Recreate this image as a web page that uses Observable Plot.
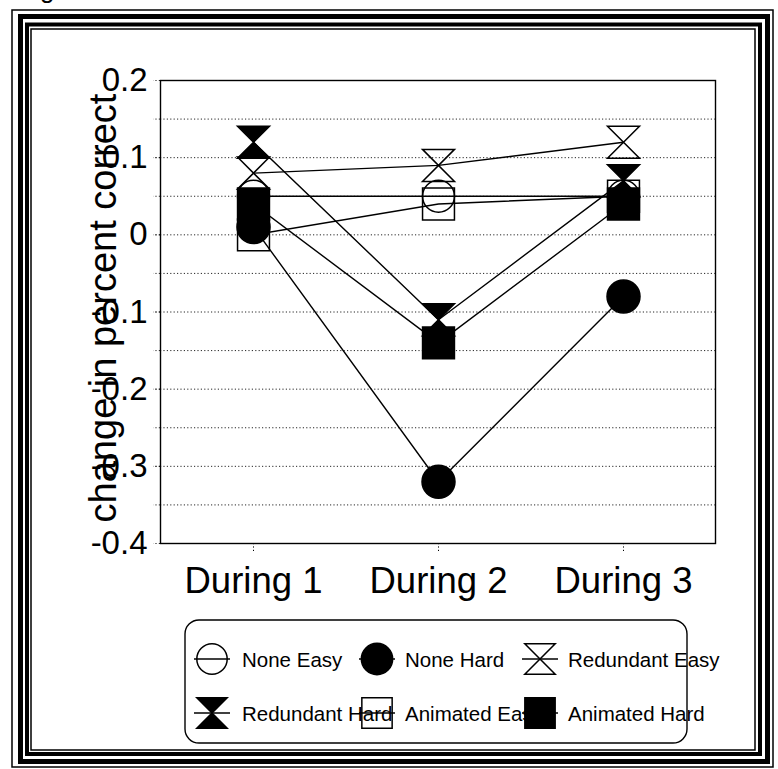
<!DOCTYPE html>
<html>
<head>
<meta charset="utf-8">
<script src="https://cdn.jsdelivr.net/npm/d3@7"></script>
<script src="https://cdn.jsdelivr.net/npm/@observablehq/plot@0.6"></script>
<style>
  html, body { margin: 0; padding: 0; background: #fff; }
  #page { position: relative; width: 778px; height: 769px; overflow: hidden; background: #fff; }
  #chart { position: absolute; left: 0; top: 0; }
  #overlay { position: absolute; left: 0; top: 0; pointer-events: none; }
</style>
</head>
<body>
<div id="page">
  <div id="chart"></div>
  <svg id="overlay" width="778" height="769"></svg>
</div>
<script>
// Test periods and the six condition series (change in proportion correct)
const periods = ["During 1", "During 2", "During 3"];
const seriesNames = ["None Easy", "None Hard", "Redundant Easy", "Redundant Hard", "Animated Easy", "Animated Hard"];
const noneEasy      = [0.05,  0.05,  0.05];
const noneHard      = [0.01, -0.32, -0.08];
const redundantEasy = [0.08,  0.09,  0.12];
const redundantHard = [0.12, -0.11,  0.07];
const animatedEasy  = [0.00,  0.04,  0.05];
const animatedHard  = [0.04, -0.14,  0.04];
const yTickValues = [0.2, 0.1, 0, -0.1, -0.2, -0.3, -0.4];
const gridValues = [0.15, 0.1, 0.05, 0, -0.05, -0.1, -0.15, -0.2, -0.25, -0.3, -0.35];

const seriesValues = [noneEasy, noneHard, redundantEasy, redundantHard, animatedEasy, animatedHard];

// Long table: one row per series and period
const rows = seriesNames.flatMap((name, i) =>
  seriesValues[i].map((v, j) => ({series: name, period: periods[j], value: v}))
);

// Vertical bow-tie (hourglass) marker
const hourglass = {
  draw(context, size) {
    const s = Math.sqrt(size / Math.PI);
    context.moveTo(-s, -s);
    context.lineTo(s, -s);
    context.lineTo(-s, s);
    context.lineTo(s, s);
    context.closePath();
  }
};

const markerStyle = {
  "None Easy":      {symbol: "circle", r: 16, fill: "none"},
  "None Hard":      {symbol: "circle", r: 16.5, fill: "#000"},
  "Redundant Easy": {symbol: hourglass, r: 16, fill: "none"},
  "Redundant Hard": {symbol: hourglass, r: 16, fill: "#000"},
  "Animated Easy":  {symbol: "square", r: 18, fill: "none"},
  "Animated Hard":  {symbol: "square", r: 18, fill: "#000"}
};

const font = "'Liberation Sans', Arial, Helvetica, sans-serif";
const dotted = "1.2,2.2";
const tickFmt = d => String(+d.toFixed(2));

const chart = Plot.plot({
  width: 778,
  height: 610,
  marginLeft: 160,
  marginRight: 63,
  marginTop: 80,
  marginBottom: 67,
  style: {fontFamily: font, background: "transparent", color: "#000", overflow: "visible"},
  x: {type: "point", domain: periods, padding: 0.5, label: null},
  y: {domain: [-0.4, 0.2], label: null},
  marks: [
    Plot.gridY(gridValues, {stroke: "#000", strokeOpacity: 0.85, strokeDasharray: dotted, strokeWidth: 1}),
    Plot.axisY(gridValues.concat(yTickValues), {tickSize: 7, tickFormat: () => "", label: null, strokeDasharray: dotted, strokeOpacity: 0.85}),
    Plot.axisY(yTickValues, {tickSize: 0, tickPadding: 13, tickFormat: tickFmt, fontSize: 33, label: null}),
    Plot.axisX({tickSize: 8, tickPadding: 16, fontSize: 36.5, label: null, strokeDasharray: dotted}),
    Plot.frame({stroke: "#000", strokeWidth: 1.4}),
    Plot.line(rows, {x: "period", y: "value", z: "series", stroke: "#000", strokeWidth: 1.4}),
    ...seriesNames.map(name => Plot.dot(rows, {
      filter: d => d.series === name,
      x: "period",
      y: "value",
      symbol: markerStyle[name].symbol,
      r: markerStyle[name].r,
      fill: markerStyle[name].fill,
      stroke: "#000",
      strokeWidth: 1.5
    })),
    Plot.text(["change in percent correct"], {
      text: d => d,
      frameAnchor: "left",
      dx: -57,
      dy: -4,
      rotate: -90,
      fontSize: 38,
      textAnchor: "middle",
      fill: "#000"
    })
  ]
});
document.getElementById("chart").appendChild(chart);

// Page frame and legend
const overlay = d3.select("#overlay");

const borders = [
  {x0: 12, y0: 10, x1: 773, y1: 767, w: 1.5},
  {x0: 20.5, y0: 16.5, x1: 767.5, y1: 761.5, w: 5},
  {x0: 27, y0: 24.5, x1: 760, y1: 754, w: 4},
  {x0: 31, y0: 29, x1: 755, y1: 750, w: 1.5}
];
overlay.selectAll("rect.border").data(borders).join("rect")
  .attr("class", "border")
  .attr("x", d => d.x0).attr("y", d => d.y0)
  .attr("width", d => d.x1 - d.x0).attr("height", d => d.y1 - d.y0)
  .attr("fill", "none").attr("stroke", "#000").attr("stroke-width", d => d.w);

// Descender of the figure caption above the frame
overlay.append("text")
  .attr("x", 40).attr("y", -2)
  .attr("font-family", font).attr("font-size", 26)
  .text("g");

// Legend box
overlay.append("rect")
  .attr("x", 185).attr("y", 620).attr("width", 502).attr("height", 123)
  .attr("rx", 14).attr("ry", 14)
  .attr("fill", "none").attr("stroke", "#000").attr("stroke-width", 1.4);

const colX = [212, 377, 540];
const textX = [242, 405, 568];
const rowY = [659, 713];

seriesNames.forEach((name, i) => {
  const col = i % 3, row = Math.floor(i / 3);
  const cx = colX[col], cy = rowY[row];
  const g = overlay.append("g").attr("transform", `translate(${cx},${cy})`);
  g.append("line").attr("x1", -18).attr("x2", 18).attr("y1", 0).attr("y2", 0)
    .attr("stroke", "#000").attr("stroke-width", 1.3);
  const st = markerStyle[name];
  const sym = st.symbol === "circle" ? d3.symbolCircle : st.symbol === "square" ? d3.symbolSquare : st.symbol;
  const r = st.r * 0.95;
  g.append("path")
    .attr("d", d3.symbol(sym, r * r * Math.PI)())
    .attr("fill", st.fill).attr("stroke", "#000").attr("stroke-width", 1.5);
  overlay.append("text")
    .attr("x", textX[col]).attr("y", cy + 7.5)
    .attr("font-family", font).attr("font-size", 20.5)
    .attr("fill", "#000")
    .text(name);
});
</script>
</body>
</html>
